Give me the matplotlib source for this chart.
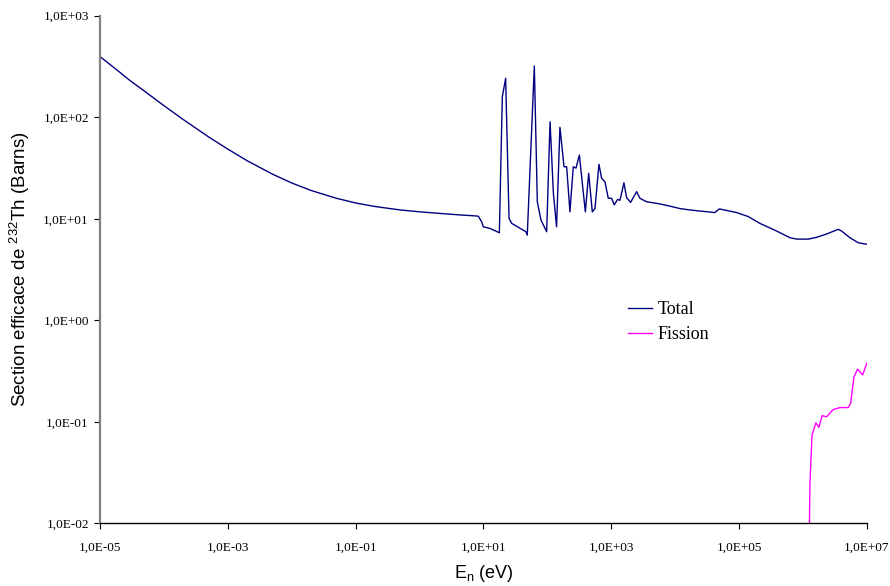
import matplotlib
matplotlib.use("Agg")
import matplotlib.pyplot as plt
from matplotlib.ticker import FixedLocator, FixedFormatter, NullLocator

# ---- data ----
energy_total = [1e-5, 2e-5, 2.94e-5, 5e-5, 1e-4, 2e-4, 5e-4, 1e-3, 2e-3, 5e-3, 1e-2,
                2e-2, 5e-2, 0.1, 0.2, 0.5, 1.0, 2.0, 4.29, 6.92, 8.28, 9.35, 9.93, 12.6,
                17.7, 19.7, 22.2, 25.1, 27.6, 46.1, 48.4, 62.4, 69.5, 79.3, 97.3,
                110, 124, 139, 157, 182, 200, 225, 254, 280, 316, 392, 442, 504,
                555, 640, 705, 794, 896, 1009, 1111, 1253, 1365, 1574, 1734, 2004,
                2486, 2800, 3565, 5754, 8260, 11830, 16950, 41700, 48900, 91500,
                139000, 211000, 385000, 623000, 793000, 1.21e6, 1.63e6, 2.33e6,
                3.55e6, 4.0e6, 5.41e6, 7.3e6, 1e7]
sigma_total = [396, 280, 230, 180, 130, 95, 64, 48.5, 37.3, 27.5, 22.5,
               19.0, 15.9, 14.3, 13.2, 12.2, 11.7, 11.3, 10.9, 10.7, 10.6, 9.33, 8.33, 8.03,
               7.28, 159, 242, 10.1, 9.0, 7.45, 6.9, 319, 14.7, 9.7, 7.45,
               90.3, 17.8, 8.33, 79.5, 32.5, 32.5, 11.7, 32.5, 31.5, 42.4, 11.7, 28, 11.7,
               12.6, 34.4, 25, 23.1, 15.9, 15.9, 13.7, 15.5, 15.2, 22.6, 16.1, 14.5,
               18.5, 15.9, 14.7, 14.0, 13.3, 12.6, 12.2, 11.5, 12.5, 11.5,
               10.5, 9.0, 7.57, 6.5, 6.3, 6.3, 6.56, 7.07,
               7.87, 7.57, 6.5, 5.8, 5.6]

energy_fission = [1.20e6, 1.28e6, 1.38e6, 1.59e6, 1.77e6, 1.98e6, 2.33e6, 2.96e6,
                  3.78e6, 5.1e6, 5.55e6, 6.25e6, 7.14e6, 8.55e6, 1e7]
sigma_fission = [0.001, 0.0247, 0.074, 0.0977, 0.088, 0.115, 0.112, 0.132,
                 0.138, 0.138, 0.152, 0.277, 0.33, 0.29, 0.38]

xtick_values = [1e-5, 1e-3, 1e-1, 1e1, 1e3, 1e5, 1e7]
xtick_labels = ["1,0E-05", "1,0E-03", "1,0E-01", "1,0E+01", "1,0E+03", "1,0E+05", "1,0E+07"]
ytick_values = [1e-2, 1e-1, 1e0, 1e1, 1e2, 1e3]
ytick_labels = ["1,0E-02", "1,0E-01", "1,0E+00", "1,0E+01", "1,0E+02", "1,0E+03"]

# ---- figure ----
fig = plt.figure(figsize=(8.9, 5.86), dpi=100)
W, H = 890, 586
left, right, top, bottom = 100, 867, 15.7, 523.3
ax = fig.add_axes([left / W, 1 - bottom / H, (right - left) / W, (bottom - top) / H])

ax.plot(energy_total, sigma_total, color="#000080", lw=1.0, label="Total")
ax.plot(energy_fission, sigma_fission, color="#FF00FF", lw=1.0, label="Fission")

ax.set_xscale("log")
ax.set_yscale("log")
ax.set_xlim(1e-5, 1e7)
ax.set_ylim(1e-2, 1e3)

ax.xaxis.set_major_locator(FixedLocator(xtick_values))
ax.xaxis.set_major_formatter(FixedFormatter(xtick_labels))
ax.yaxis.set_major_locator(FixedLocator(ytick_values))
ax.yaxis.set_major_formatter(FixedFormatter(ytick_labels))
ax.xaxis.set_minor_locator(NullLocator())
ax.yaxis.set_minor_locator(NullLocator())

serif = ["Liberation Serif", "DejaVu Serif"]
for lab in ax.get_xticklabels() + ax.get_yticklabels():
    lab.set_family(serif)
    lab.set_fontsize(9.5)

ax.tick_params(axis="both", direction="out", length=4, width=0.8, color="black")
ax.tick_params(axis="x", pad=9)
ax.tick_params(axis="y", pad=4)

ax.spines["top"].set_visible(False)
ax.spines["right"].set_visible(False)
ax.spines["left"].set_color("#808080")
ax.spines["left"].set_linewidth(1.6)
ax.spines["bottom"].set_color("black")
ax.spines["bottom"].set_linewidth(1.0)

sans = ["Liberation Sans", "DejaVu Sans"]
ax.set_xlabel(r"E$_\mathregular{n}$ (eV)", family=sans, fontsize=13, labelpad=7)
ax.set_ylabel(r"Section efficace de $^\mathregular{232}$Th (Barns)", family=sans,
              fontsize=13.5, labelpad=8)

leg = ax.legend(loc="upper left", bbox_to_anchor=(0.688, 0.438), frameon=False,
                borderpad=0, borderaxespad=0, handlelength=1.35, handletextpad=0.3,
                labelspacing=0.46, prop={"family": serif, "size": 13})

fig.savefig("out.png", dpi=100)
